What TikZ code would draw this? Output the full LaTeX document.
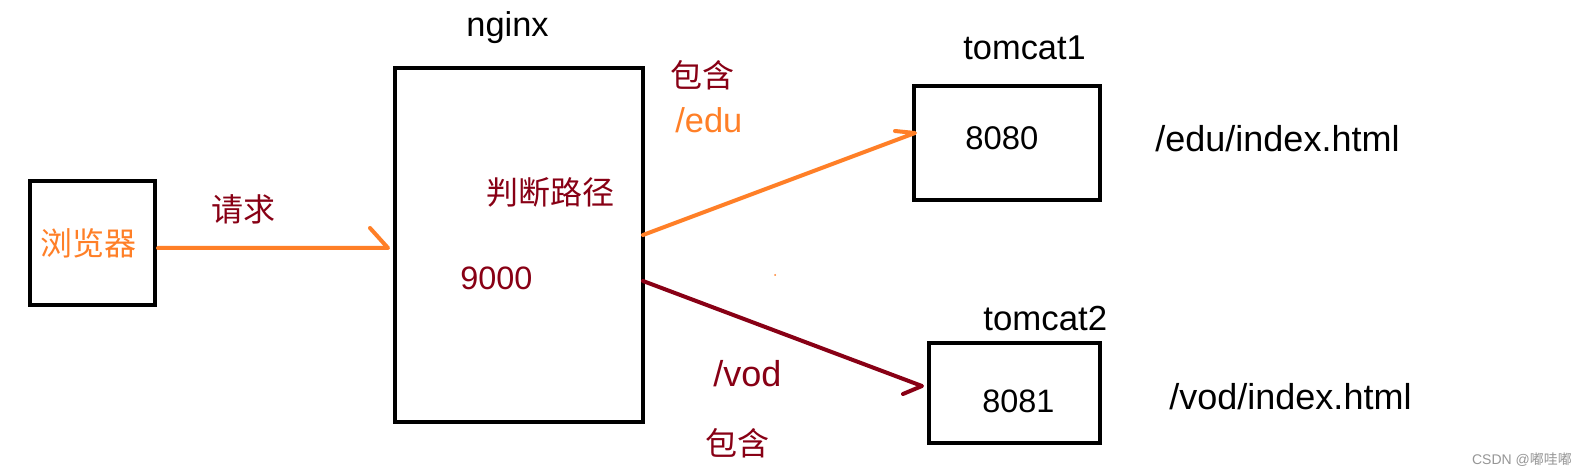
\documentclass[tikz,border=0pt]{standalone}
\usepackage{fontspec}
\setmainfont{Liberation Sans}
\newfontfamily\cjk{Noto Sans CJK SC}
\usetikzlibrary{calc}
\definecolor{po}{RGB}{255,127,39}
\definecolor{dr}{RGB}{136,0,21}
\definecolor{wm}{RGB}{150,150,150}
\newcommand\fs[1]{\fontsize{#1}{#1}\selectfont}
\begin{document}
\begin{tikzpicture}[x=0.5pt,y=-0.5pt,
  box/.style={draw=black,line width=2pt,inner sep=0pt,outer sep=0pt},
  lat/.style={inner sep=0pt,anchor=base west},
  zh/.style={inner sep=0pt,font=\cjk\fs{16}},
  conn/.style={line width=2pt,line cap=round,line join=round}]
\useasboundingbox[fill=white] (0,0) rectangle (1587,475);
% boxes
\node[box,minimum width=62.5pt,minimum height=62pt] (browser) at (92.5,243) {};
\node[box,minimum width=124pt,minimum height=177pt] (nginx) at (519,245) {};
\node[box,minimum width=93pt,minimum height=57pt] (tomcat1) at (1007,143) {};
\node[box,minimum width=85.5pt,minimum height=50pt] (tomcat2) at (1014.5,393) {};
% latin texts
\node[lat,font=\fs{17.2}] (nginxlbl) at (466,37) {nginx};
\node[lat,font=\fs{17.2}] (t1lbl) at (963,60) {tomcat1};
\node[lat,font=\fs{17.4}] (t2lbl) at (983,331) {tomcat2};
\node[lat,font=\fs{16.4}] (p8080) at (965,150) {8080};
\node[lat,font=\fs{16.2}] (p8081) at (982,413) {8081};
\node[lat,font=\fs{16.2},text=dr] (p9000) at (460,290) {9000};
\node[lat,font=\fs{18}] (edupath) at (1155,152) {/edu/index.html};
\node[lat,font=\fs{18}] (vodpath) at (1169,410) {/vod/index.html};
\node[lat,font=\fs{17.2},text=po] (edu) at (675,133) {/edu};
\node[lat,font=\fs{18},text=dr] (vod) at (713,387) {/vod};
% chinese texts
\node[zh,text=po] (browsertxt) at (88,243) {浏览器};
\node[zh,text=dr] (req) at (243,209) {请求};
\node[zh,text=dr] (judge) at (550,192) {判断路径};
\node[zh,text=dr] (inc1) at (702,75) {包含};
\node[zh,text=dr] (inc2) at (737,443) {包含};
% watermark
\node[inner sep=0pt,text=wm,font=\fs{7}] (wmark) at (1522,460) {CSDN @{\cjk 嘟哇嘟}};
% stray dot
\fill[po] (775,275) circle (0.5pt);
% connectors
\draw[conn,po] ($(browser.east)+(3,5)$) -- ($(nginx.west |- browser.east)+(-7,5)$) -- ++(-18,-20);
\draw[conn,po] ($(nginx.east)+(0,-10)$) -- ($(tomcat1.west)+(1,-10)$) -- ++(-20,-2);
\draw[conn,dr] ($(nginx.east)+(0,36)$) -- ($(tomcat2.west)+(-7,-7)$) -- ++(-19,8);
\end{tikzpicture}
\end{document}
